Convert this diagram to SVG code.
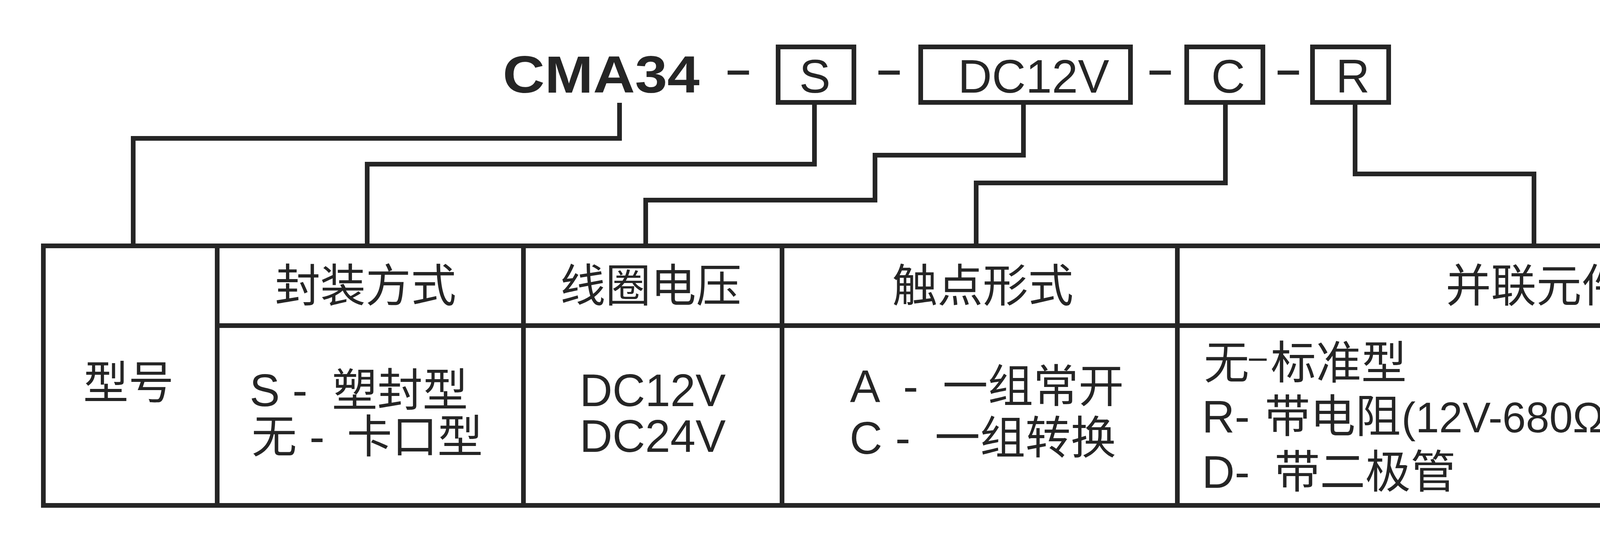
<svg xmlns="http://www.w3.org/2000/svg" width="4800" height="1425" viewBox="0 0 4800 1425">
<style>
  .ln{fill:none;stroke:#252525;stroke-width:12;stroke-linejoin:miter;stroke-linecap:butt}
  .t{font-family:'Liberation Sans','Noto Sans CJK SC',sans-serif;fill:#252525}
  .box{font-size:120px;text-anchor:middle}
  .hd{font-size:116px;text-anchor:middle}
  .bd{font-size:116px}
  .dash{font-size:136px;text-anchor:middle}
</style>
<rect x="0" y="0" width="4800" height="1425" fill="#ffffff"/>

<g id="code-model">
  <text class="t" x="1287" y="237" font-size="134" font-weight="bold" textLength="504" lengthAdjust="spacingAndGlyphs">CMA34</text>
</g>
<g id="code-package">
  <rect class="ln" x="1992" y="120" width="194" height="142"/>
  <text class="t box" x="2086" y="237">S</text>
</g>
<g id="code-voltage">
  <rect class="ln" x="2357" y="120" width="537" height="142"/>
  <text class="t box" x="2646" y="237">DC12V</text>
</g>
<g id="code-contact">
  <rect class="ln" x="3038" y="120" width="195" height="142"/>
  <text class="t box" x="3144" y="237">C</text>
</g>
<g id="code-parallel">
  <rect class="ln" x="3360" y="120" width="195" height="142"/>
  <text class="t box" x="3463" y="237">R</text>
</g>
<g id="code-separators">
  <text class="t dash" transform="translate(1890,222) scale(1.65,1)">-</text>
  <text class="t dash" transform="translate(2276,222) scale(1.65,1)">-</text>
  <text class="t dash" transform="translate(2970,222) scale(1.65,1)">-</text>
  <text class="t dash" transform="translate(3298,222) scale(1.65,1)">-</text>
</g>

<g id="connectors">
  <polyline class="ln" points="1586,263 1586,354 341,354 341,629"/>
  <polyline class="ln" points="2085,268 2085,420 940,420 940,629"/>
  <polyline class="ln" points="2620,268 2620,397 2240,397 2240,512 1653,512 1653,629"/>
  <polyline class="ln" points="3137,268 3137,468 2499,468 2499,629"/>
  <polyline class="ln" points="3469,268 3469,445 3927,445 3927,629"/>
</g>

<g id="table">
  <rect class="ln" x="111" y="629" width="4626" height="664"/>
  <line class="ln" x1="556" y1="629" x2="556" y2="1293"/>
  <line class="ln" x1="1340" y1="629" x2="1340" y2="1293"/>
  <line class="ln" x1="2002" y1="629" x2="2002" y2="1293"/>
  <line class="ln" x1="3014" y1="629" x2="3014" y2="1293"/>
  <line class="ln" x1="556" y1="833" x2="4737" y2="833"/>
</g>

<g id="col-model">
  <text class="t hd" x="329" y="1020">型号</text>
</g>
<g id="col-package">
  <text class="t hd" x="936" y="772">封装方式</text>
  <text class="t bd" x="639" y="1039">S - <tspan x="850">塑封型</tspan></text>
  <text class="t bd" x="644" y="1158">无 - <tspan x="888">卡口型</tspan></text>
</g>
<g id="col-voltage">
  <text class="t hd" x="1666" y="772">线圈电压</text>
  <text class="t hd" x="1671" y="1039">DC12V</text>
  <text class="t hd" x="1671" y="1156">DC24V</text>
</g>
<g id="col-contact">
  <text class="t hd" x="2516" y="772">触点形式</text>
  <text class="t bd" x="2176" y="1029">A <tspan x="2312">-</tspan> <tspan x="2413">一组常开</tspan></text>
  <text class="t bd" x="2175" y="1161">C <tspan x="2292">-</tspan> <tspan x="2393">一组转换</tspan></text>
</g>
<g id="col-parallel">
  <text class="t hd" x="3933" y="772">并联元件</text>
  <text class="t bd" x="3082" y="969">无<tspan x="3189" y="940" font-size="75" textLength="62" lengthAdjust="spacingAndGlyphs">-</tspan><tspan x="3253" y="969">标准型</tspan></text>
  <text class="t bd" x="3077" y="1106">R- <tspan x="3238">带电阻</tspan><tspan x="3588" font-size="110" textLength="1128" lengthAdjust="spacingAndGlyphs">(12V-680Ω,24V-2700Ω)</tspan></text>
  <text class="t bd" x="3077" y="1248">D- <tspan x="3263">带二极管</tspan></text>
</g>
</svg>
